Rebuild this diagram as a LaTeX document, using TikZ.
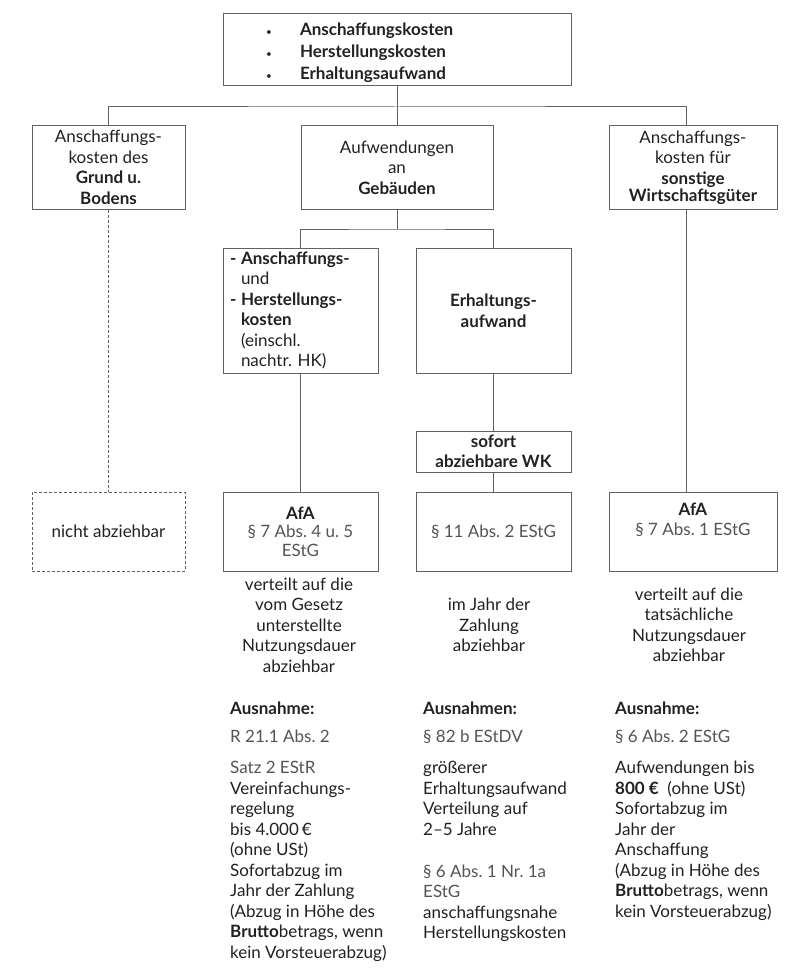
\documentclass[tikz,border=0pt]{standalone}
\usepackage{fontspec}
\setmainfont{Lato}
\usepackage{xcolor}
\usepackage{tikz}
\usetikzlibrary{positioning}
\frenchspacing
\definecolor{txtc}{gray}{0.13}
\definecolor{refc}{gray}{0.33}
\definecolor{linec}{gray}{0.38}
\newcommand{\lawref}[1]{\textcolor{refc}{#1}}
\newcommand{\topblt}{\makebox[34pt][l]{\fontsize{10}{10}\selectfont\textbullet}}
\newcommand{\hkdash}{\makebox[11pt][l]{\textbf{-}}}
\newcommand{\hkindent}{\hspace*{11pt}}
\tikzset{
  box/.style={rectangle, draw=linec, line width=1pt, align=center, inner sep=0pt,
              text=txtc, font=\fontsize{17}{20.5}\selectfont},
  dbox/.style={box, dash pattern=on 3pt off 2pt},
  conn/.style={draw=linec, line width=1pt},
  dconn/.style={conn, dash pattern=on 3pt off 2pt},
  note/.style={align=center, inner sep=0pt, text=txtc, font=\fontsize{17}{20.5}\selectfont},
  excol/.style={align=left, anchor=north west, inner sep=0pt, text=txtc,
                font=\fontsize{17}{20.5}\selectfont},
}
\begin{document}
\begin{tikzpicture}[x=1pt, y=-1pt,
    wa/.style={minimum width=153pt, minimum height=83pt},
    wb/.style={minimum width=155pt, minimum height=125pt},
    wc/.style={minimum width=155pt, minimum height=79pt}]
  \useasboundingbox (0,0) rectangle (800,979);
  \node[box, minimum width=348pt, minimum height=72pt, align=left, text width=262pt, inner xsep=43pt] (top) at (397,50)
       {\rule{0pt}{19pt}\topblt\textbf{Anschaffungskosten}\\[1.5pt]\topblt\textbf{Herstellungskosten}\\[1.5pt]\topblt\textbf{Erhaltungsaufwand}};
  \node[box, wa]                        (grund) at (108.5,167.5) {Anschaffungs-\\kosten des\\\textbf{Grund u.}\\\textbf{Bodens}};
  \node[box, wa, minimum width=192pt]   (geb)   at (397,167.5)   {Aufwendungen\\an\\\textbf{Gebäuden}};
  \node[box, wa, minimum width=168pt]   (sonst) at (693,167.5)   {Anschaffungs-\\kosten für\\\textbf{sonstige}\\[-3.5pt]\textbf{Wirtschaftsgüter}};
  \node[box, wb, align=left, text width=141pt, inner xsep=7pt] (hk) at (300.5,310.5)
       {\hkdash\textbf{Anschaffungs-}\\\hkindent und\\\hkdash\textbf{Herstellungs-}\\\hkindent\textbf{kosten}\\\hkindent(einschl.\\\hkindent nachtr. HK)};
  \node[box, wb]                        (erh)   at (493.5,310.5) {\textbf{Erhaltungs-}\\\textbf{aufwand}};
  \node[box, minimum width=155pt, minimum height=41pt] (sofort) at (493.5,451.5) {\textbf{sofort}\\\textbf{abziehbare WK}};
  \node[dbox, wc, minimum width=153pt]  (nicht) at (108.5,531.5) {nicht abziehbar};
  \node[box, wc]                        (afaa)  at (300.5,531.5) {\textbf{AfA}\\[-2pt]\lawref{§ 7 Abs. 4 u. 5}\\[-2pt]\lawref{EStG}};
  \node[box, wc]                        (estg)  at (493.5,531.5) {\lawref{§ 11 Abs. 2 EStG}};
  \node[box, wc, minimum width=168pt]   (afab)  at (693,531.5)   {\textbf{AfA}\\\lawref{§ 7 Abs. 1 EStG}\\[4pt]};
  \coordinate (bus)  at (397,107);
  \coordinate (bus2) at (397,229);
  \draw[conn] (top.south) -- (bus);
  \draw[conn] (grund.north) |- (bus) -| ([xshift=-7pt]sonst.north);
  \draw[conn] (bus) -- (geb.north);
  \draw[conn] (geb.south) -- (bus2);
  \draw[conn] (hk.north) |- (bus2) -| (erh.north);
  \draw[dconn] (grund.south) -- (nicht.north);
  \draw[conn] (hk.south) -- (afaa.north);
  \draw[conn] (erh.south) -- (sofort.north);
  \draw[conn] (sofort.south) -- (estg.north);
  \draw[conn] ([xshift=-7pt]sonst.south) -- ([xshift=-7pt]afab.north);
  \node[note] (na) at (299,625) {verteilt auf die\\vom Gesetz\\unterstellte\\Nutzungsdauer\\abziehbar};
  \node[note] (nb) at (489,625) {im Jahr der\\Zahlung\\abziehbar};
  \node[note] (nc) at (689,625) {verteilt auf die\\tatsächliche\\Nutzungsdauer\\abziehbar};
  \node[excol] (exa) at (230,702)
       {\textbf{Ausnahme:}\\[7.5pt]\lawref{R 21.1 Abs. 2}\\[10.5pt]\lawref{Satz 2 EStR}\\Vereinfachungs-\\regelung\\bis 4.000\,€\\(ohne USt)\\Sofortabzug im\\Jahr der Zahlung\\(Abzug in Höhe des\\\textbf{Brutto}betrags, wenn\\kein Vorsteuerabzug)};
  \node[excol] (exb) at (423,702)
       {\textbf{Ausnahmen:}\\[7.5pt]\lawref{§ 82 b EStDV}\\[10.5pt]größerer\\Erhaltungsaufwand\\Verteilung auf\\2–5 Jahre\\[21.5pt]\lawref{§ 6 Abs. 1 Nr. 1a}\\\lawref{EStG}\\anschaffungsnahe\\Herstellungskosten};
  \node[excol] (exc) at (615,702)
       {\textbf{Ausnahme:}\\[7.5pt]\lawref{§ 6 Abs. 2 EStG}\\[10.5pt]Aufwendungen bis\\\textbf{800 €}\ \ (ohne USt)\\Sofortabzug im\\Jahr der\\Anschaffung\\(Abzug in Höhe des\\\textbf{Brutto}betrags, wenn\\kein Vorsteuerabzug)};
\end{tikzpicture}
\end{document}
